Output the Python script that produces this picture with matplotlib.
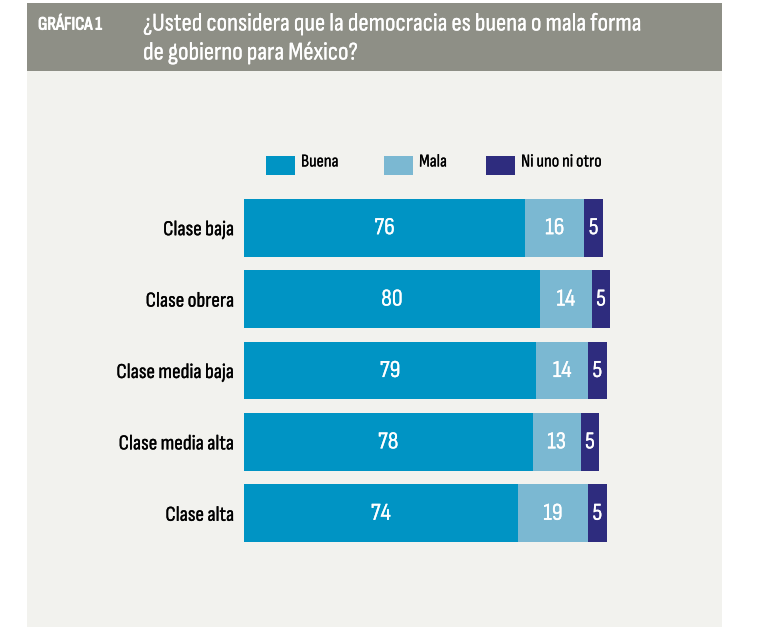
import matplotlib.pyplot as plt
import matplotlib.patheffects as pe
from matplotlib.patches import Rectangle

plt.rcParams['font.family'] = ['Sofia Sans Condensed', 'Liberation Sans Narrow', 'DejaVu Sans']

clases = ["Clase baja", "Clase obrera", "Clase media baja", "Clase media alta", "Clase alta"]
buena = [76, 80, 79, 78, 74]
mala = [16, 14, 14, 13, 19]
ninguno = [5, 5, 5, 5, 5]
series = ["Buena", "Mala", "Ni uno ni otro"]
colores = ["#0094c4", "#7bb8d2", "#2e2c7e"]

W, H = 760, 637
fig = plt.figure(figsize=(7.6, 6.37), dpi=100)
fig.patch.set_facecolor("white")

def grueso(c, w=0.2):
    # engrosar un poco el trazo de la fuente condensada
    return [pe.withStroke(linewidth=w, foreground=c)]

# panel de fondo y barra de titulo
fig.add_artist(Rectangle((27 / W, 1 - 627 / H), 695 / W, 557 / H, transform=fig.transFigure,
                         facecolor="#f2f2ee", edgecolor="none", zorder=0))
fig.add_artist(Rectangle((27 / W, 1 - 71 / H), 695 / W, 68 / H, transform=fig.transFigure,
                         facecolor="#8e8f86", edgecolor="none", zorder=0))
fig.text(38 / W, 1 - 25 / H, "GRÁFICA 1", color="white", fontsize=13.5, fontweight="bold",
         va="center", ha="left", path_effects=grueso("white", 0.7))
fig.text(143 / W, 1 - 24 / H, "¿Usted considera que la democracia es buena o mala forma",
         color="white", fontsize=18.3, va="center", ha="left", path_effects=grueso("white", 0.15))
fig.text(143 / W, 1 - 53 / H, "de gobierno para México?",
         color="white", fontsize=18.3, va="center", ha="left", path_effects=grueso("white", 0.15))

ax = fig.add_axes([244 / W, 1 - 549 / H, 370 / W, 357 / H])
ax.set_facecolor("none")
y = list(range(len(clases)))
izq = [0] * len(clases)
for nombre, vals, col in zip(series, [buena, mala, ninguno], colores):
    ax.barh(y, vals, left=izq, height=0.81, color=col, edgecolor="none", label=nombre)
    for i, v in enumerate(vals):
        ax.text(izq[i] + v / 2, i, str(v), color="white", fontsize=17.5, ha="center", va="center",
                path_effects=grueso("white", 0.15))
    izq = [a + b for a, b in zip(izq, vals)]

ax.set_xlim(0, 100)
ax.set_ylim(4.5, -0.5)
ax.set_yticks(y)
ax.set_yticklabels(clases, fontsize=15.3)
for t in ax.get_yticklabels():
    t.set_path_effects(grueso("black", 0.2))
ax.tick_params(axis="y", length=0, pad=7)
ax.set_xticks([])
for s in ax.spines.values():
    s.set_visible(False)

# leyenda
leg_x = [266, 384, 486]
for lx, nombre, col in zip(leg_x, series, colores):
    fig.add_artist(Rectangle((lx / W, 1 - 175 / H), 29 / W, 19 / H, transform=fig.transFigure,
                             facecolor=col, edgecolor="none"))
    fig.text((lx + 35) / W, 1 - 162 / H, nombre, fontsize=13, va="center", ha="left",
             path_effects=grueso("black", 0.15))

fig.savefig("out.png", dpi=100)
